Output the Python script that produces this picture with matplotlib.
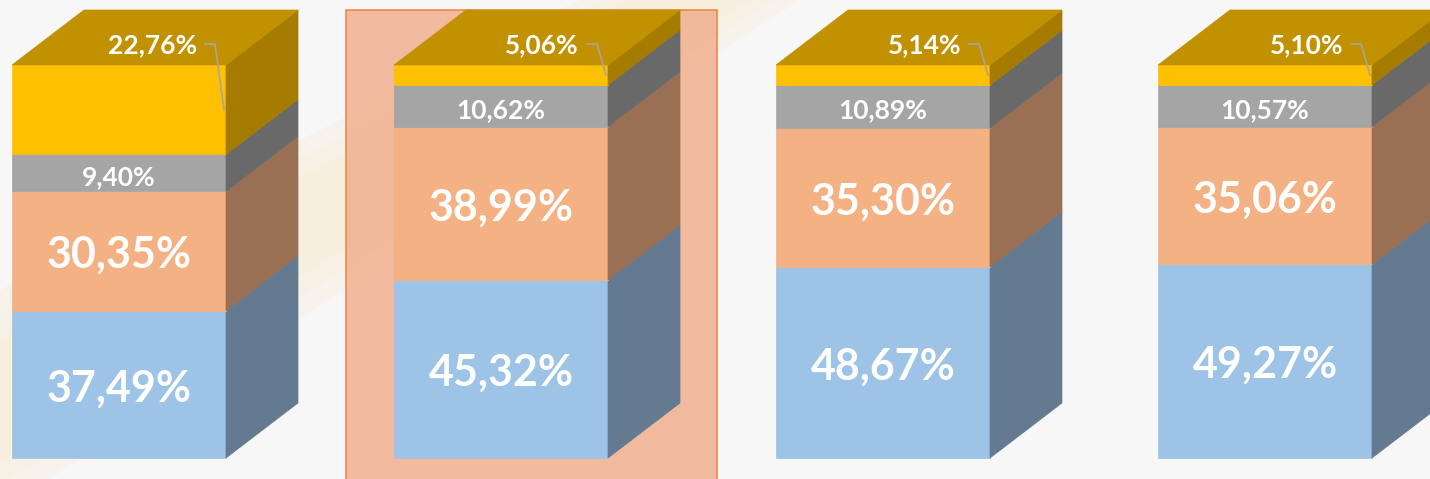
import matplotlib.pyplot as plt
import numpy as np
from matplotlib.patches import Polygon, Rectangle

plt.rcParams['font.family'] = ['Lato', 'DejaVu Sans']

# доли сегментов (снизу вверх) для каждого столбца, %
blue = [37.49, 45.32, 48.67, 49.27]
orange = [30.35, 38.99, 35.30, 35.06]
gray = [9.40, 10.62, 10.89, 10.57]
yellow = [22.76, 5.06, 5.14, 5.10]
labels = [['37,49%', '30,35%', '9,40%', '22,76%'],
          ['45,32%', '38,99%', '10,62%', '5,06%'],
          ['48,67%', '35,30%', '10,89%', '5,14%'],
          ['49,27%', '35,06%', '10,57%', '5,10%']]
highlight = 1  # выделенный столбец

front_cols = ['#9DC3E6', '#F4B183', '#A5A5A5', '#FFC000']
side_cols = ['#647A91', '#9A7055', '#696969', '#A67C00']
top_col = '#C29100'

W, H = 1430, 479
fig = plt.figure(figsize=(W / 100, H / 100), dpi=100)
fig.patch.set_facecolor('#F7F7F7')

# фон: слабая диагональная полоса (несколько слоёв для мягкого края)
bg = fig.add_axes([0, 0, 1, 1])
bg.set_xlim(0, W)
bg.set_ylim(H, 0)
bg.axis('off')
for grow in [0, 25, 50]:
    bg.add_patch(Polygon([(0, 340 - grow), (630 - grow, 0), (750 + grow, 0), (0, 460 + grow)],
                         closed=True, facecolor='#FBE6C4', alpha=0.2, lw=0))

# пиксели -> единицы данных
px = 1 / 382          # по x: шаг столбцов 382 px
py = 100 / 393        # по y: 100% = 393 px
x0 = -119 * px
ax = fig.add_axes([0, 0, 1, 1])
ax.set_xlim(x0, x0 + W * px)
ax.set_ylim(-21 * py, -21 * py + H * py)
ax.axis('off')

bw = 214 * px
dx, dy = 72 * px, 55 * py

# подсветка второго столбца
ax.add_patch(Rectangle((highlight - 155 * px, -30), 371 * px, 30 + 100 + 55 * py,
                       facecolor='#F0B090', edgecolor='#ED7D31', lw=1.2,
                       alpha=0.85, zorder=1))

segments = np.array([blue, orange, gray, yellow]).T
for i, vals in enumerate(segments):
    left = i - bw / 2
    right = i + bw / 2
    bottoms = np.concatenate([[0], np.cumsum(vals)[:-1]])
    for k, (b, v) in enumerate(zip(bottoms, vals)):
        t = b + v
        ax.add_patch(Polygon([(left, b), (right, b), (right, t), (left, t)],
                             closed=True, facecolor=front_cols[k],
                             edgecolor=front_cols[k], lw=0.5, zorder=3))
        ax.add_patch(Polygon([(right, b), (right + dx, b + dy), (right + dx, t + dy), (right, t)],
                             closed=True, facecolor=side_cols[k],
                             edgecolor=side_cols[k], lw=0.5, zorder=3))
    total = bottoms[-1] + vals[-1]
    ax.add_patch(Polygon([(left, total), (right, total), (right + dx, total + dy),
                          (left + dx, total + dy)], closed=True, facecolor=top_col,
                         edgecolor=top_col, lw=0.5, zorder=3))

    # подписи внутри сегментов
    for k in range(3):
        size = 31 if k < 2 else 19
        ax.text(i, bottoms[k] + vals[k] / 2 - 1, labels[i][k], ha='center', va='center',
                color='white', fontsize=size, fontweight='bold', zorder=5)

    # подпись верхнего сегмента на крышке с выноской
    ty = 100 + 20 * py
    tx = left + 185 * px
    ax.text(tx, ty, labels[i][3], ha='right', va='center', color='white',
            fontsize=19, fontweight='bold', zorder=5)
    ax.plot([tx + 8 * px, tx + 18 * px, right - 2 * px],
            [ty + 1 * py, ty + 1 * py, bottoms[3] + vals[3] / 2],
            color='#A5A5A5', lw=1.2, zorder=5)

fig.savefig('out.png', dpi=100, facecolor=fig.get_facecolor())
